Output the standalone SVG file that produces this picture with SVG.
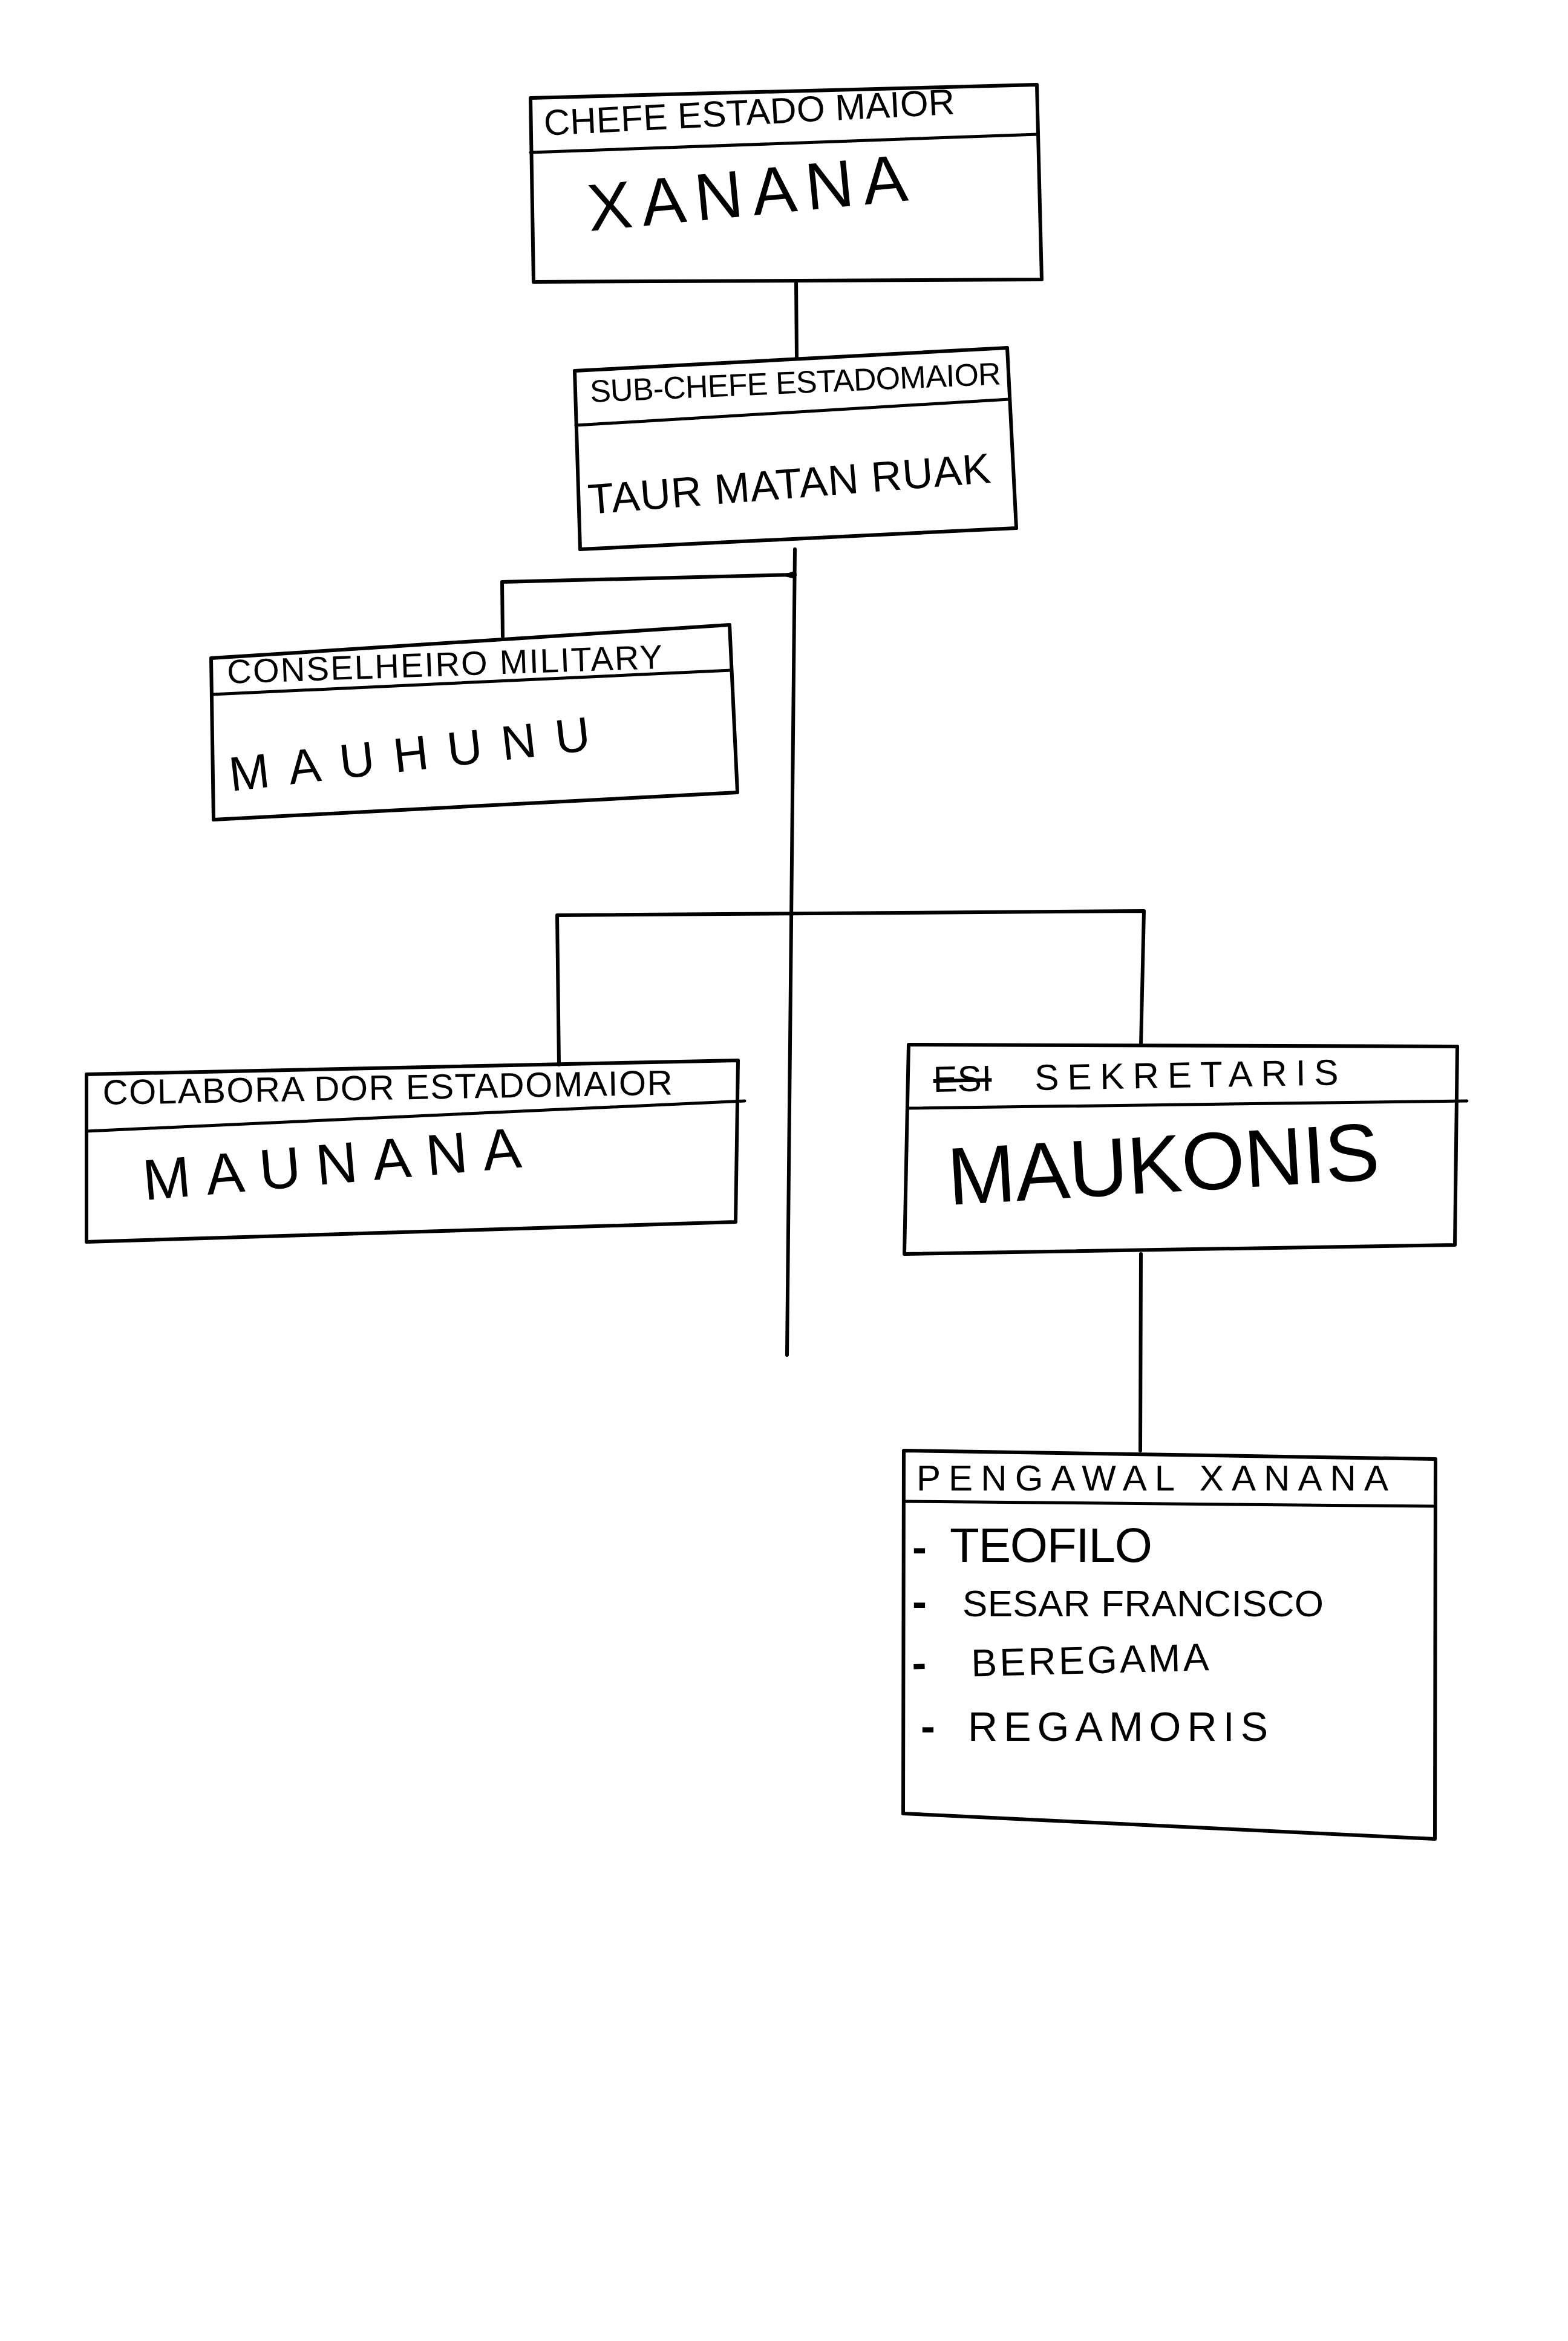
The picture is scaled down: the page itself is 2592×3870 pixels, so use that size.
<svg xmlns="http://www.w3.org/2000/svg" width="2592" height="3870" viewBox="0 0 2592 3870">
<style>
.box{fill:none;stroke:#000;stroke-width:6;stroke-linejoin:round;stroke-linecap:round}
.div{fill:none;stroke:#000;stroke-width:5;stroke-linecap:round}
.con{fill:none;stroke:#000;stroke-width:6;stroke-linecap:round;stroke-linejoin:round}
.hd{font-family:"Liberation Sans","DejaVu Sans",sans-serif;fill:#000}
.nm{font-family:"Liberation Sans","DejaVu Sans",sans-serif;fill:#000}
.dash{font-size:72px;font-weight:bold}
</style>
<rect x="0" y="0" width="2592" height="3870" fill="#fff"/>
<g id="connectors">
<path class="con" d="M1316,464 L1317,590"/>
<path class="con" d="M1314,908 L1301,2240"/>
<path class="con" d="M1314,950 L830,962 L831,1052"/>
<path class="con" d="M924,1760 L921,1513 L1891,1506 L1886,1728"/>
<path class="con" d="M1886,2073 L1885,2398"/>
<path d="M1314,944 L1290,951 L1314,957 Z" fill="#000"/>
</g>
<g id="node-chefe">
<path class="box" d="M877,162 L1714,140 L1722,462 L882,466 Z"/>
<path class="div" d="M877,252 L1716,222"/>
<text class="hd" x="900" y="224" font-size="60" textLength="680" lengthAdjust="spacing" transform="rotate(-3 900 224)">CHEFE ESTADO MAIOR</text>
<text class="nm" x="975" y="382" font-size="110" textLength="530" lengthAdjust="spacing" transform="rotate(-5.5 975 382)">XANANA</text>
</g>
<g id="node-subchefe">
<path class="box" d="M950,613 L1665,575 L1680,873 L959,908 Z"/>
<path class="div" d="M952,703 L1668,660"/>
<text class="hd" x="976" y="665" font-size="52" textLength="680" lengthAdjust="spacing" transform="rotate(-2.5 976 665)">SUB-CHEFE ESTADOMAIOR</text>
<text class="nm" x="974" y="850" font-size="70" textLength="667" lengthAdjust="spacing" transform="rotate(-4.5 974 850)">TAUR MATAN RUAK</text>
</g>
<g id="node-conselheiro">
<path class="box" d="M349,1088 L1206,1033 L1219,1310 L353,1355 Z"/>
<path class="div" d="M350,1148 L1209,1108"/>
<text class="hd" x="376" y="1130" font-size="56" textLength="720" lengthAdjust="spacing" transform="rotate(-2 376 1130)">CONSELHEIRO MILITARY</text>
<text class="nm" x="382" y="1308" font-size="80" textLength="600" lengthAdjust="spacing" transform="rotate(-6.5 382 1308)">MAUHUNU</text>
</g>
<g id="node-colaborador">
<path class="box" d="M143,1776 L1220,1753 L1216,2020 L143,2053 Z"/>
<path class="div" d="M143,1870 L1231,1820"/>
<text class="hd" x="170" y="1826" font-size="58" textLength="942" lengthAdjust="spacing" transform="rotate(-1 170 1826)">COLABORA DOR ESTADOMAIOR</text>
<text class="nm" x="239" y="1984" font-size="95" textLength="627" lengthAdjust="spacing" transform="rotate(-5 239 1984)">MAUNANA</text>
</g>
<g id="node-sekretaris">
<path class="box" d="M1502,1727 L2409,1730 L2405,2058 L1495,2073 Z"/>
<path class="div" d="M1500,1832 L2425,1820"/>
<text class="hd" y="1805" font-size="60" transform="rotate(-1 1543 1805)"><tspan x="1543" text-decoration="line-through">ESI</tspan><tspan x="1680" textLength="533" lengthAdjust="spacing"> SEKRETARIS</tspan></text>
<text class="nm" x="1569" y="1992" font-size="135" textLength="715" lengthAdjust="spacing" transform="rotate(-3.4 1569 1992)">MAUKONIS</text>
</g>
<g id="node-pengawal">
<path class="box" d="M1494,2398 L2373,2412 L2372,3040 L1493,2998 Z"/>
<path class="div" d="M1494,2482 L2372,2490"/>
<text class="hd" x="1515" y="2464" font-size="60" textLength="780" lengthAdjust="spacing">PENGAWAL XANANA</text>
<text class="nm" y="2582" font-size="80"><tspan x="1508" class="dash">-</tspan><tspan x="1570" textLength="335" lengthAdjust="spacing">TEOFILO</tspan></text>
<text class="nm" y="2672" font-size="62"><tspan x="1508" class="dash">-</tspan><tspan x="1591" textLength="597" lengthAdjust="spacing">SESAR FRANCISCO</tspan></text>
<text class="nm" y="2774" font-size="64" transform="rotate(-1.5 1512 2774)"><tspan x="1508" class="dash">-</tspan><tspan x="1606" textLength="393" lengthAdjust="spacing">BEREGAMA</tspan></text>
<text class="nm" y="2878" font-size="68"><tspan x="1522" class="dash">-</tspan><tspan x="1600" textLength="496" lengthAdjust="spacing">REGAMORIS</tspan></text>
</g>
</svg>
